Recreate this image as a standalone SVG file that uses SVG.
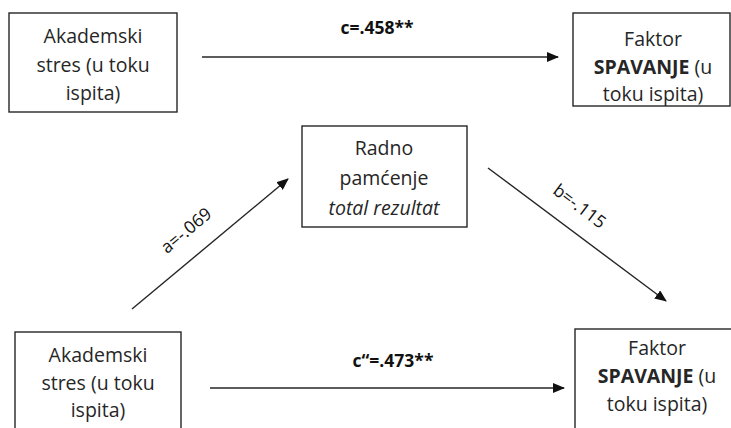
<svg xmlns="http://www.w3.org/2000/svg" width="731" height="428" viewBox="0 0 731 428">
<style>
.box{fill:#fff;stroke:#262626;stroke-width:1.4}
.t{font-family:"Open Sans","Liberation Sans",sans-serif;font-size:19.5px;fill:#262626;text-anchor:middle}
.lab{font-family:"Open Sans","Liberation Sans",sans-serif;font-size:17.5px;fill:#111;text-anchor:middle}
.b{font-weight:bold}
.c{stroke:#262626;stroke-width:1.4;fill:none;marker-end:url(#ah)}
</style>
<defs>
<marker id="ah" viewBox="0 0 12 10" refX="11" refY="5" markerWidth="12" markerHeight="10" markerUnits="userSpaceOnUse" orient="auto">
<path d="M0,0 L12,5 L0,10 Z" fill="#111"/>
</marker>
</defs>
<rect width="731" height="428" fill="#fff"/>
<g id="connectors">
<line class="c" x1="202" y1="57" x2="558" y2="57"/>
<line class="c" x1="210" y1="388" x2="564" y2="388"/>
<line class="c" x1="132" y1="309" x2="288" y2="179"/>
<line class="c" x1="488" y1="168" x2="666" y2="301"/>
<text class="lab b" x="377" y="34">c=.458**</text>
<text class="lab b" x="393" y="367">c“=.473**</text>
<text class="lab" transform="translate(190,235) rotate(-40)">a=-.069</text>
<text class="lab" transform="translate(576,211) rotate(37)">b=-.115</text>
</g>
<g id="node-stres-top">
<rect class="box" x="9" y="13" width="168" height="99"/>
<text class="t" x="93" y="43">Akademski</text>
<text class="t" x="93" y="72">stres (u toku</text>
<text class="t" x="93" y="100">ispita)</text>
</g>
<g id="node-spavanje-top">
<rect class="box" x="573" y="13" width="157" height="93"/>
<text class="t" x="653" y="46">Faktor</text>
<text class="t" x="653" y="74"><tspan class="b">SPAVANJE</tspan> (u</text>
<text class="t" x="653" y="101">toku ispita)</text>
</g>
<g id="node-radno">
<rect class="box" x="302" y="126" width="165" height="101"/>
<text class="t" x="384" y="155">Radno</text>
<text class="t" x="384" y="185">pamćenje</text>
<text class="t" x="384" y="215" font-style="italic">total rezultat</text>
</g>
<g id="node-stres-bottom">
<rect class="box" x="15" y="332" width="166" height="110"/>
<text class="t" x="98" y="362">Akademski</text>
<text class="t" x="98" y="390">stres (u toku</text>
<text class="t" x="98" y="417">ispita)</text>
</g>
<g id="node-spavanje-bottom">
<rect class="box" x="575" y="329" width="160" height="110"/>
<text class="t" x="657" y="355">Faktor</text>
<text class="t" x="657" y="383"><tspan class="b">SPAVANJE</tspan> (u</text>
<text class="t" x="657" y="411">toku ispita)</text>
</g>
</svg>
